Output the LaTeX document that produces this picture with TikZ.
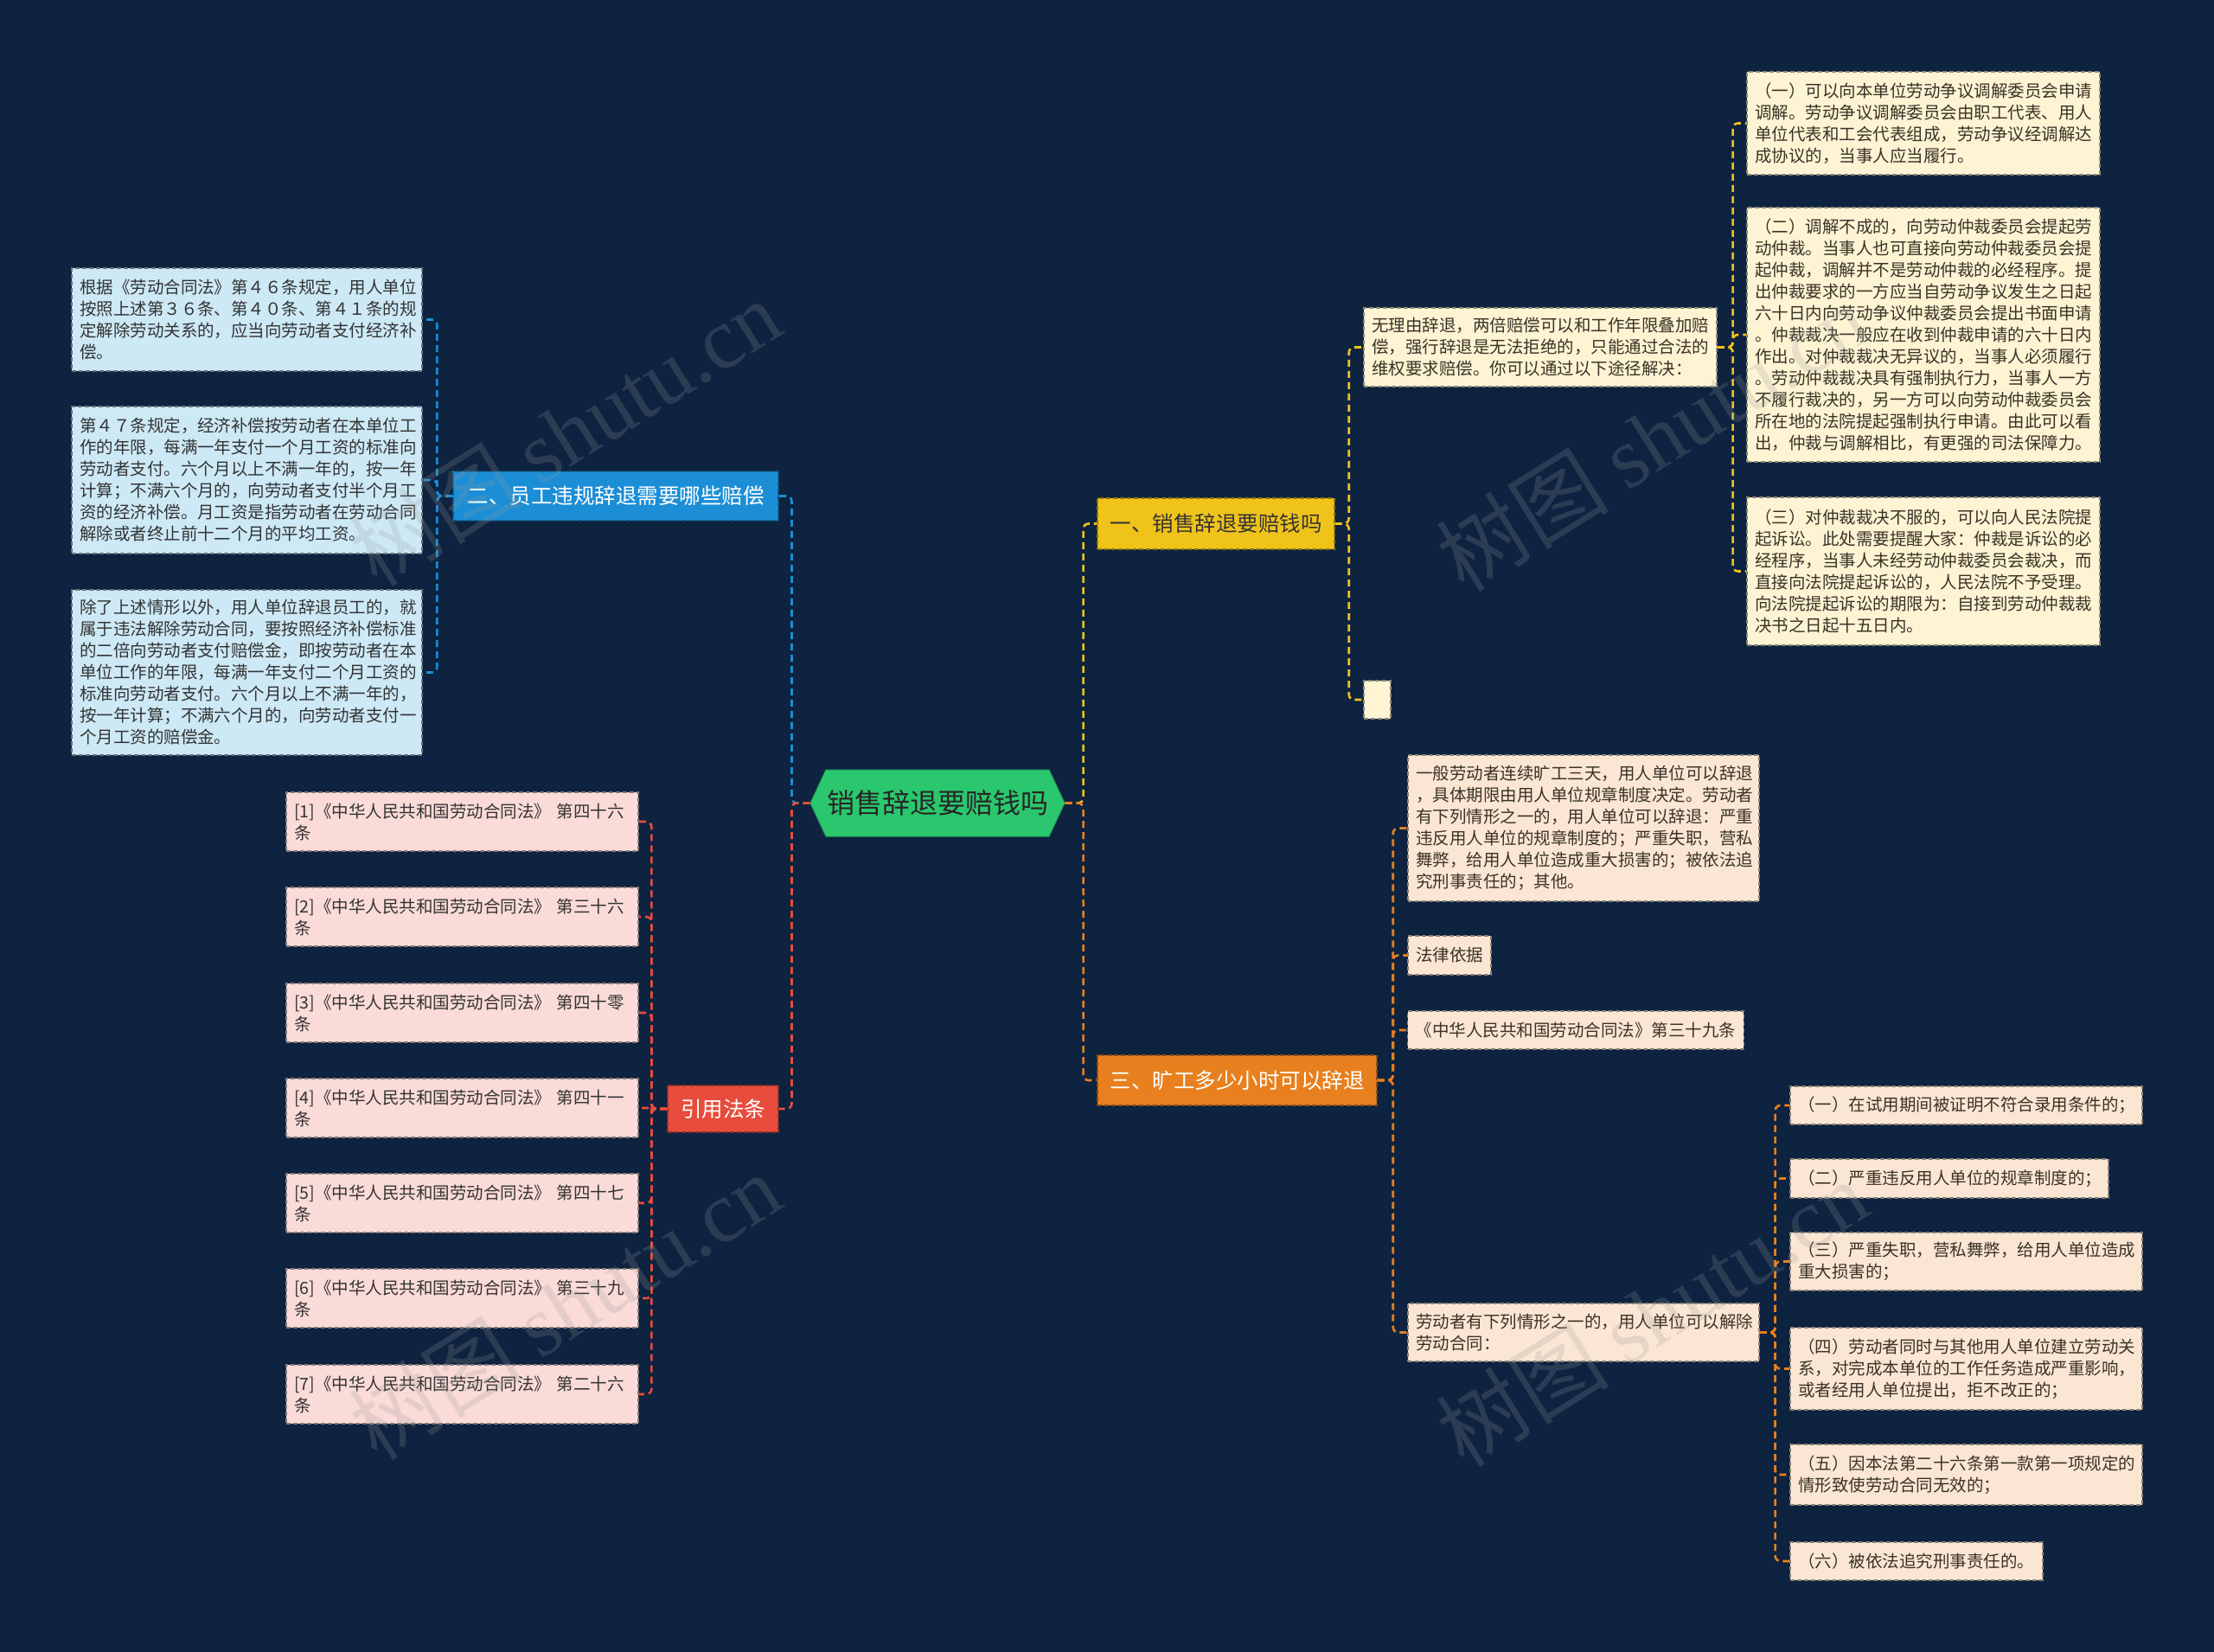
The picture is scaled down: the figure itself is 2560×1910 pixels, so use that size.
\documentclass[tikz,border=0pt]{standalone}
\usepackage{fontspec}
\setmainfont{Noto Sans CJK SC}
\newfontfamily\wmserif{Liberation Serif}
\usetikzlibrary{shapes.symbols}
\definecolor{bg}{HTML}{0D2340}
\definecolor{cgreen}{HTML}{2BC76E}
\definecolor{cyellow}{HTML}{F0C31A}
\definecolor{corange}{HTML}{E8801F}
\definecolor{cblue}{HTML}{1C8ED6}
\definecolor{cred}{HTML}{E84C3D}
\definecolor{fcream}{HTML}{FDF4D4}
\definecolor{fpeach}{HTML}{FBE6D4}
\definecolor{fblue}{HTML}{CDE9F6}
\definecolor{fpink}{HTML}{FADBD7}
\definecolor{tdark}{HTML}{3A3226}
\tikzset{
  conn/.style={line width=2.6pt, dash pattern=on 8pt off 5pt, rounded corners=6pt},
  box/.style={rectangle, line width=1.3pt, dash pattern=on 5pt off 3pt, inner xsep=9pt, inner ysep=0pt,
    align=left, text=tdark, font=\fontsize{19.5}{25}\selectfont},
  ylf/.style={box, fill=fcream, draw=fcream!55!black},
  olf/.style={box, fill=fpeach, draw=fpeach!55!black},
  blf/.style={box, fill=fblue, draw=fblue!50!black, text=black!80},
  plf/.style={box, fill=fpink, draw=fpink!55!black, text=black!80},
  branch/.style={rectangle, line width=1.4pt, dash pattern=on 5pt off 3pt, inner xsep=14pt, inner ysep=0pt,
    font=\fontsize{24.5}{30}\selectfont},
  wm/.style={rotate=32, text=gray!80, opacity=0.22, font=\fontsize{100}{100}\selectfont}
}
\begin{document}
\begin{tikzpicture}[x=1pt,y=-1pt]
\fill[bg] (0,0) rectangle (2560,1910);
\useasboundingbox (0,0) rectangle (2560,1910);

% center
\node[signal, signal to=east and west, signal pointer angle=130, fill=cgreen, draw=cgreen!80!black, line width=1pt,
  minimum width=294pt, minimum height=77pt, inner sep=0pt, text=black!85, font=\fontsize{32}{38}\selectfont]
  (c) at (1084,928.5) {销售辞退要赔钱吗};

% branches
\node[branch, fill=cyellow, draw=cyellow!60!black, text=black!80, minimum width=274pt, minimum height=59pt] (b1) at (1406,605.5) {一、销售辞退要赔钱吗};
\node[branch, fill=corange, draw=corange!60!black, text=white, minimum width=323pt, minimum height=58pt] (b3) at (1430.5,1249) {三、旷工多少小时可以辞退};
\node[branch, fill=cblue, draw=cblue!60!black, text=white, minimum width=376pt, minimum height=57pt] (b2) at (712,573.5) {二、员工违规辞退需要哪些赔偿};
\node[branch, fill=cred, draw=cred!60!black, text=white, minimum width=128pt, minimum height=54pt] (b4) at (836,1282) {引用法条};

% branch 1 children
\node[ylf, minimum width=408pt, minimum height=91pt, text width=390pt] (y1) at (1781,401.5)
 {无理由辞退，两倍赔偿可以和工作年限叠加赔\\偿，强行辞退是无法拒绝的，只能通过合法的\\维权要求赔偿。你可以通过以下途径解决：};
\node[ylf, minimum width=31pt, minimum height=44pt, inner xsep=0pt] (y2) at (1592.5,809) {};
\node[ylf, minimum width=408pt, minimum height=119pt, text width=390pt] (y1a) at (2224,142.5)
 {（一）可以向本单位劳动争议调解委员会申请\\调解。劳动争议调解委员会由职工代表、用人\\单位代表和工会代表组成，劳动争议经调解达\\成协议的，当事人应当履行。};
\node[ylf, minimum width=408pt, minimum height=294pt, text width=390pt] (y1b) at (2224,387)
 {（二）调解不成的，向劳动仲裁委员会提起劳\\动仲裁。当事人也可直接向劳动仲裁委员会提\\起仲裁，调解并不是劳动仲裁的必经程序。提\\出仲裁要求的一方应当自劳动争议发生之日起\\六十日内向劳动争议仲裁委员会提出书面申请\\。仲裁裁决一般应在收到仲裁申请的六十日内\\作出。对仲裁裁决无异议的，当事人必须履行\\。劳动仲裁裁决具有强制执行力，当事人一方\\不履行裁决的，另一方可以向劳动仲裁委员会\\所在地的法院提起强制执行申请。由此可以看\\出，仲裁与调解相比，有更强的司法保障力。};
\node[ylf, minimum width=408pt, minimum height=171pt, text width=390pt] (y1c) at (2224,660.5)
 {（三）对仲裁裁决不服的，可以向人民法院提\\起诉讼。此处需要提醒大家：仲裁是诉讼的必\\经程序，当事人未经劳动仲裁委员会裁决，而\\直接向法院提起诉讼的，人民法院不予受理。\\向法院提起诉讼的期限为：自接到劳动仲裁裁\\决书之日起十五日内。};

% branch 3 children
\node[olf, minimum width=406pt, minimum height=169pt, text width=388pt] (o1) at (1831,957.5)
 {一般劳动者连续旷工三天，用人单位可以辞退\\，具体期限由用人单位规章制度决定。劳动者\\有下列情形之一的，用人单位可以辞退：严重\\违反用人单位的规章制度的；严重失职，营私\\舞弊，给用人单位造成重大损害的；被依法追\\究刑事责任的；其他。};
\node[olf, minimum width=96pt, minimum height=45pt] (o2) at (1676,1104.5) {法律依据};
\node[olf, minimum width=388pt, minimum height=44pt] (o3) at (1822,1191) {《中华人民共和国劳动合同法》第三十九条};
\node[olf, minimum width=406pt, minimum height=67pt, text width=388pt] (o4) at (1831,1540.5)
 {劳动者有下列情形之一的，用人单位可以解除\\劳动合同：};
\node[olf, minimum width=407pt, minimum height=44pt, text width=389pt] (o4a) at (2273.5,1278) {（一）在试用期间被证明不符合录用条件的；};
\node[olf, minimum width=368pt, minimum height=45pt, text width=350pt] (o4b) at (2254,1362.5) {（二）严重违反用人单位的规章制度的；};
\node[olf, minimum width=407pt, minimum height=67pt, text width=389pt] (o4c) at (2273.5,1458.5) {（三）严重失职，营私舞弊，给用人单位造成\\重大损害的；};
\node[olf, minimum width=407pt, minimum height=95pt, text width=389pt] (o4d) at (2273.5,1582.5) {（四）劳动者同时与其他用人单位建立劳动关\\系，对完成本单位的工作任务造成严重影响，\\或者经用人单位提出，拒不改正的；};
\node[olf, minimum width=407pt, minimum height=70pt, text width=389pt] (o4e) at (2273.5,1705) {（五）因本法第二十六条第一款第一项规定的\\情形致使劳动合同无效的；};
\node[olf, minimum width=292pt, minimum height=44pt, text width=274pt] (o4f) at (2216,1805) {（六）被依法追究刑事责任的。};

% branch 2 children
\node[blf, minimum width=405pt, minimum height=119pt, text width=387pt] (ba) at (285.5,369.5)
 {根据《劳动合同法》第４６条规定，用人单位\\按照上述第３６条、第４０条、第４１条的规\\定解除劳动关系的，应当向劳动者支付经济补\\偿。};
\node[blf, minimum width=405pt, minimum height=170pt, text width=387pt] (bb) at (285.5,555)
 {第４７条规定，经济补偿按劳动者在本单位工\\作的年限，每满一年支付一个月工资的标准向\\劳动者支付。六个月以上不满一年的，按一年\\计算；不满六个月的，向劳动者支付半个月工\\资的经济补偿。月工资是指劳动者在劳动合同\\解除或者终止前十二个月的平均工资。};
\node[blf, minimum width=405pt, minimum height=191pt, text width=387pt] (bc) at (285.5,777.5)
 {除了上述情形以外，用人单位辞退员工的，就\\属于违法解除劳动合同，要按照经济补偿标准\\的二倍向劳动者支付赔偿金，即按劳动者在本\\单位工作的年限，每满一年支付二个月工资的\\标准向劳动者支付。六个月以上不满一年的，\\按一年计算；不满六个月的，向劳动者支付一\\个月工资的赔偿金。};

% branch 4 children
\node[plf, minimum width=407pt, minimum height=68pt, text width=389pt] (p1) at (534.5,950) {[1]《中华人民共和国劳动合同法》 第四十六\\条};
\node[plf, minimum width=407pt, minimum height=68pt, text width=389pt] (p2) at (534.5,1060) {[2]《中华人民共和国劳动合同法》 第三十六\\条};
\node[plf, minimum width=407pt, minimum height=68pt, text width=389pt] (p3) at (534.5,1171) {[3]《中华人民共和国劳动合同法》 第四十零\\条};
\node[plf, minimum width=407pt, minimum height=68pt, text width=389pt] (p4) at (534.5,1281) {[4]《中华人民共和国劳动合同法》 第四十一\\条};
\node[plf, minimum width=407pt, minimum height=68pt, text width=389pt] (p5) at (534.5,1391) {[5]《中华人民共和国劳动合同法》 第四十七\\条};
\node[plf, minimum width=407pt, minimum height=68pt, text width=389pt] (p6) at (534.5,1501) {[6]《中华人民共和国劳动合同法》 第三十九\\条};
\node[plf, minimum width=407pt, minimum height=68pt, text width=389pt] (p7) at (534.5,1612) {[7]《中华人民共和国劳动合同法》 第二十六\\条};

% connectors center
\draw[conn, cyellow] (c.east) -- ++(21,0) |- (b1.west);
\draw[conn, corange] (c.east) -- ++(21,0) |- (b3.west);
\draw[conn, cblue] (c.west) -- ++(-21,0) |- (b2.east);
\draw[conn, cred] (c.west) -- ++(-21,0) |- (b4.east);

% branch 1
\foreach \n in {y1,y2} \draw[conn, cyellow] (b1.east) -- ++(16,0) |- (\n.west);
\foreach \n in {y1a,y1b,y1c} \draw[conn, cyellow] (y1.east) -- ++(18,0) |- (\n.west);
% branch 3
\foreach \n in {o1,o2,o3,o4} \draw[conn, corange] (b3.east) -- ++(18,0) |- (\n.west);
\foreach \n in {o4a,o4b,o4c,o4d,o4e,o4f} \draw[conn, corange] (o4.east) -- ++(18,0) |- (\n.west);
% branch 2
\foreach \n in {ba,bb,bc} \draw[conn, cblue] (b2.west) -- ++(-18,0) |- (\n.east);
% branch 4
\foreach \n in {p1,p2,p3,p4,p5,p6,p7} \draw[conn, cred] (b4.west) -- ++(-18,0) |- (\n.east);

% watermarks (on top, faint)
\node[wm] (wm1) at (653,500) {树图 {\wmserif shutu.cn}};
\node[wm] (wm2) at (1910,506) {树图 {\wmserif shutu.cn}};
\node[wm] (wm3) at (653,1510) {树图 {\wmserif shutu.cn}};
\node[wm] (wm4) at (1910,1518) {树图 {\wmserif shutu.cn}};
\end{tikzpicture}
\end{document}
